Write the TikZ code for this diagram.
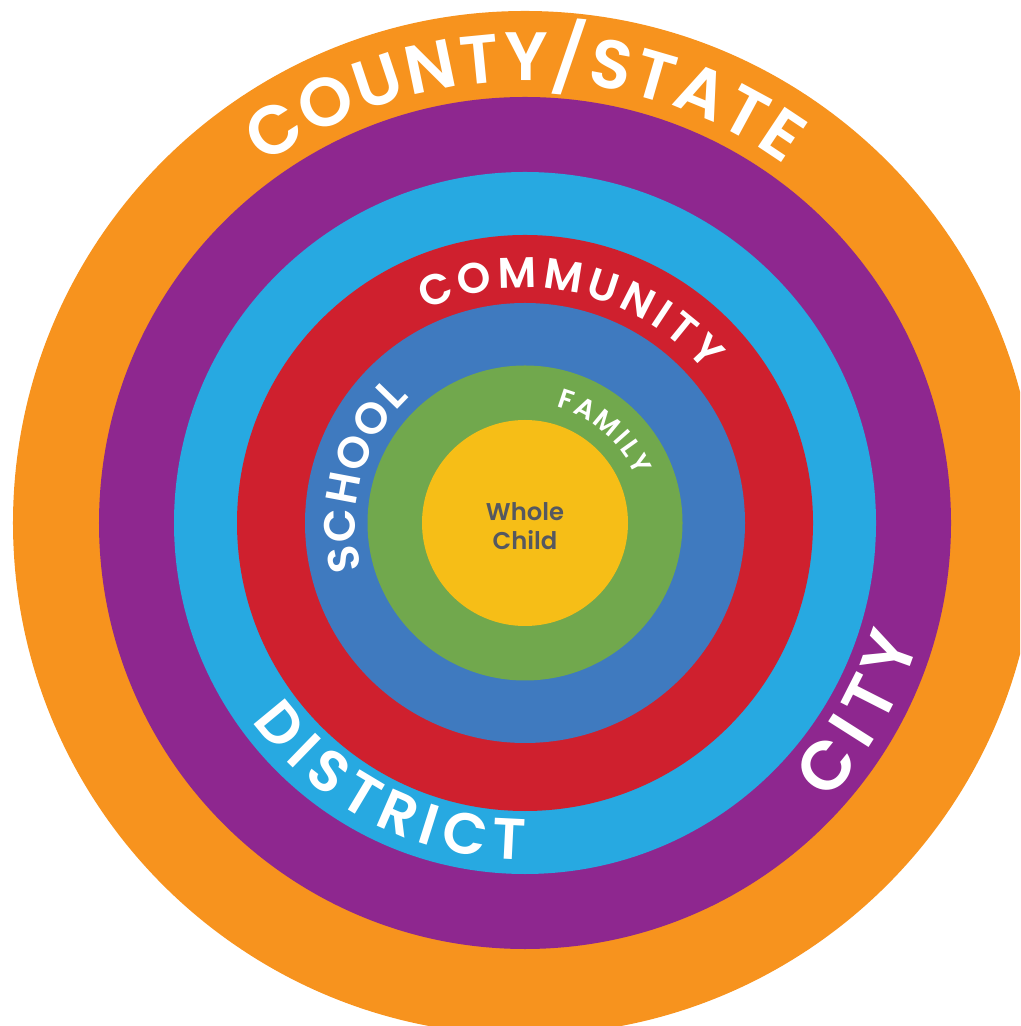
\documentclass[tikz,border=0pt]{standalone}
\usepackage{fontspec}
\newfontfamily\ringfont{Poppins SemiBold}
\newfontfamily\corefont{Poppins SemiBold}
\usetikzlibrary{decorations.text}

\definecolor{ringorange}{HTML}{F7931E}
\definecolor{ringpurple}{HTML}{8E278F}
\definecolor{ringcyan}{HTML}{27A9E1}
\definecolor{ringred}{HTML}{CF202E}
\definecolor{ringblue}{HTML}{3F7ABF}
\definecolor{ringgreen}{HTML}{71A84D}
\definecolor{ringyellow}{HTML}{F6BE17}
\definecolor{coregray}{HTML}{555860}

% white caption bent along an arc: radius, start angle, end angle, size, text
\newcommand\ringlabel[5]{%
  \path[decorate, decoration={text along path, text align=fit to path,
    text color=white, text={|\ringfont\fontsize{#4}{#4}\selectfont|#5}}]
    (#2:#1) arc[start angle=#2, end angle=#3, radius=#1];}

\begin{document}
\begin{tikzpicture}
  \useasboundingbox (-5.25,-5.03) rectangle (4.95,5.23);
  \clip (-5.25,-5.03) rectangle (4.95,5.23);
  \foreach \r/\c in {5.12/ringorange, 4.26/ringpurple, 3.51/ringcyan, 2.88/ringred,
                     2.20/ringblue, 1.575/ringgreen, 1.03/ringyellow}
    \fill[\c] (0,0) circle (\r);
  \ringlabel{4.42}{126}{54}{19.5}{COUNTY/STATE}
  \ringlabel{2.35}{115}{40}{12.2}{COMMUNITY}
  \ringlabel{1.70}{196}{132.5}{12.5}{SCHOOL}
  \ringlabel{1.20}{75}{23}{7.8}{FAMILY}
  \ringlabel{3.37}{216}{270}{16.5}{DISTRICT}
  \ringlabel{4.11}{-42.5}{-16.7}{19.5}{CITY}
  \node[font=\corefont\fontsize{6.9}{8.3}\selectfont, text=coregray, align=center]
    (child) at (0,-0.035) {Whole\\Child};
\end{tikzpicture}
\end{document}
